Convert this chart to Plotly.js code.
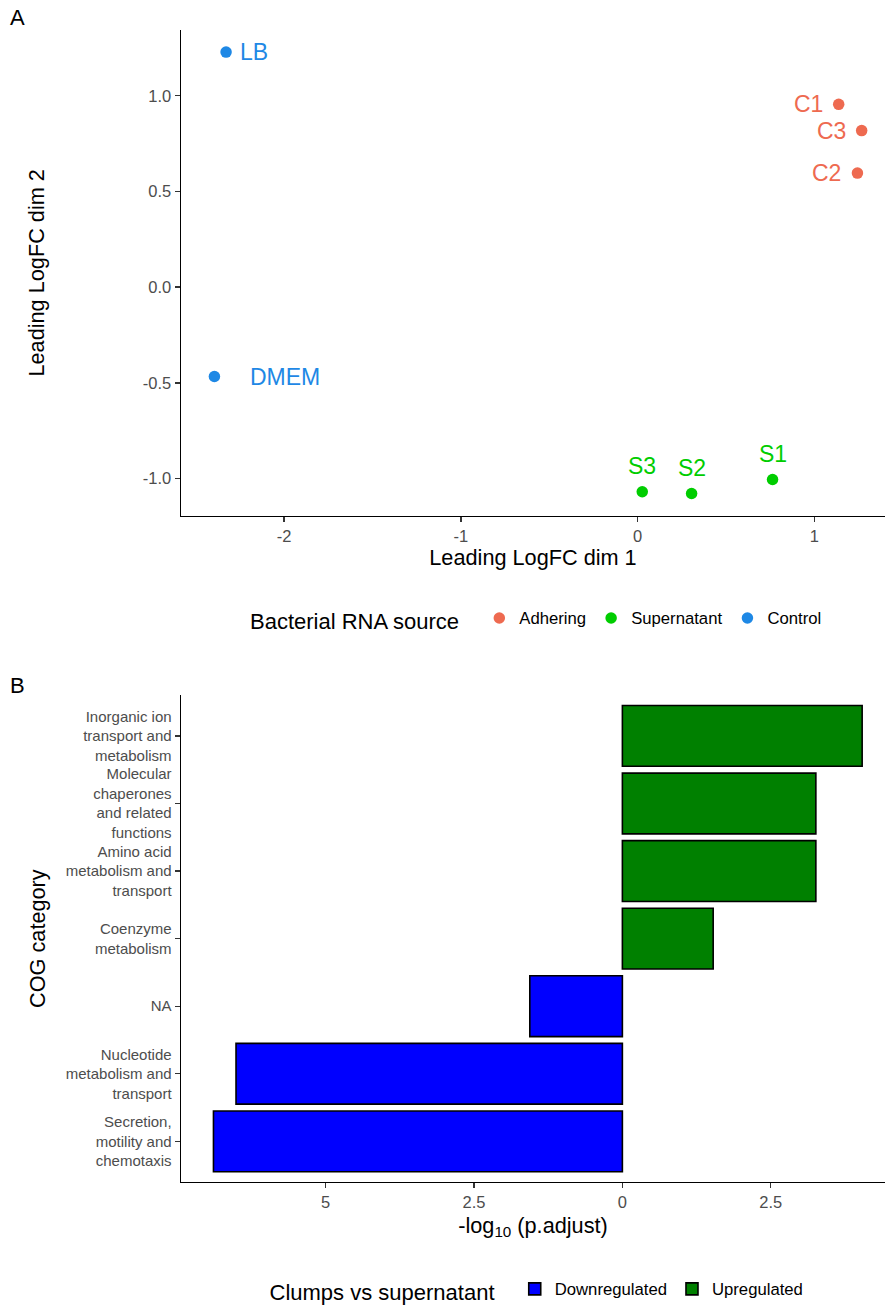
<!DOCTYPE html>
<html>
<head>
<meta charset="utf-8">
<script src="https://cdn.plot.ly/plotly-3.0.1.min.js"></script>
<style>
  html, body { margin: 0; padding: 0; background: #ffffff; overflow: hidden; }
  #chart { width: 885px; height: 1311px; }
</style>
</head>
<body>
<div id="chart"></div>
<script>
// ---------- Panel A data (MDS plot) ----------
const sampleNames  = ['C1', 'C2', 'C3', 'S1', 'S2', 'S3', 'LB', 'DMEM'];
const sampleGroups = ['Adhering', 'Adhering', 'Adhering', 'Supernatant', 'Supernatant', 'Supernatant', 'Control', 'Control'];
const dim1Values   = [1.137, 1.243, 1.267, 0.763, 0.305, 0.026, -2.328, -2.394];
const dim2Values   = [0.955, 0.596, 0.818, -1.005, -1.078, -1.069, 1.228, -0.467];
const groupOrder   = ['Adhering', 'Supernatant', 'Control'];
const xTickValsA   = [-2, -1, 0, 1];
const xTickTextA   = ['-2', '-1', '0', '1'];
const yTickValsA   = [-1, -0.5, 0, 0.5, 1];
const yTickTextA   = ['-1.0', '-0.5', '0.0', '0.5', '1.0'];

// ---------- Panel B data (COG enrichment) ----------
const cogCategories = [
  'Inorganic ion<br>transport and<br>metabolism',
  'Molecular<br>chaperones<br>and related<br>functions',
  'Amino acid<br>metabolism and<br>transport',
  'Coenzyme<br>metabolism',
  'NA',
  'Nucleotide<br>metabolism and<br>transport',
  'Secretion,<br>motility and<br>chemotaxis'
];
const cogScores     = [4.04, 3.26, 3.26, 1.53, -1.56, -6.51, -6.89];   // signed -log10(p.adjust)
const cogDirection  = ['Upregulated', 'Upregulated', 'Upregulated', 'Upregulated', 'Downregulated', 'Downregulated', 'Downregulated'];
const directionOrder = ['Downregulated', 'Upregulated'];
const xTickValsB    = [-5, -2.5, 0, 2.5];
const xTickTextB    = ['5', '2.5', '0', '2.5'];

// ---------- styles (kept separate from data) ----------
const groupColors = { 'Adhering': '#EE6A50', 'Supernatant': '#00CD00', 'Control': '#1E88E5' };
const dirColors   = { 'Downregulated': '#0000FF', 'Upregulated': '#008000' };
// label placement per sample: [xanchor, xshift, yshift]
const labelPlacement = {
  'C1': ['right', -14, 0], 'C2': ['right', -14, 0], 'C3': ['right', -14, 0],
  'S1': ['center', 0, 26], 'S2': ['center', 0, 26], 'S3': ['center', 0, 26],
  'LB': ['left', 12, 0], 'DMEM': ['left', 34, 0]
};

const FONT = 'Liberation Sans, Arial, Helvetica, sans-serif';
const W = 885, H = 1311;
const px = v => v / W;
const py = v => 1 - v / H;

const traces = [];
groupOrder.forEach(g => {
  const xs = [], ys = [], ts = [];
  sampleGroups.forEach((sg, i) => {
    if (sg === g) { xs.push(dim1Values[i]); ys.push(dim2Values[i]); ts.push(sampleNames[i]); }
  });
  traces.push({
    type: 'scatter', mode: 'markers', x: xs, y: ys, text: ts, name: g,
    xaxis: 'x', yaxis: 'y', legend: 'legend',
    marker: { color: groupColors[g], size: 11.5 },
    hoverinfo: 'text'
  });
});

directionOrder.forEach(d => {
  const xs = [], ys = [];
  cogDirection.forEach((cd, i) => {
    if (cd === d) { xs.push(cogScores[i]); ys.push(cogCategories[i]); }
  });
  traces.push({
    type: 'bar', orientation: 'h', x: xs, y: ys, name: d,
    xaxis: 'x2', yaxis: 'y2', legend: 'legend2',
    marker: { color: dirColors[d], line: { color: '#000000', width: 1.6 } }
  });
});

const annotations = [];
sampleNames.forEach((n, i) => {
  const p = labelPlacement[n];
  annotations.push({
    xref: 'x', yref: 'y', x: dim1Values[i], y: dim2Values[i], text: n,
    showarrow: false, xanchor: p[0], yanchor: 'middle', xshift: p[1], yshift: p[2],
    font: { family: FONT, size: 23, color: groupColors[sampleGroups[i]] }
  });
});
annotations.push({ xref: 'paper', yref: 'paper', x: px(8), y: py(18), text: 'A', showarrow: false,
  xanchor: 'left', yanchor: 'middle', font: { family: FONT, size: 22, color: '#000' } });
annotations.push({ xref: 'paper', yref: 'paper', x: px(8), y: py(688), text: 'B', showarrow: false,
  xanchor: 'left', yanchor: 'middle', font: { family: FONT, size: 22, color: '#000' } });

const tickFont  = { family: FONT, size: 16.5, color: '#4D4D4D' };
const catTickFont = { family: FONT, size: 15, color: '#4D4D4D' };
const titleFont = { family: FONT, size: 21.7, color: '#000000' };
const axisCommon = {
  showline: true, linecolor: '#000000', linewidth: 1.4, mirror: false,
  ticks: 'outside', ticklen: 5, tickwidth: 1.4, tickcolor: '#333333',
  showgrid: false, zeroline: false, tickfont: tickFont, automargin: false, fixedrange: true
};

const layout = {
  width: W, height: H,
  margin: { l: 0, r: 0, t: 0, b: 0, pad: 0 },
  paper_bgcolor: '#ffffff', plot_bgcolor: '#ffffff',
  font: { family: FONT, color: '#000' },
  barmode: 'overlay', bargap: 0.1,
  showlegend: true,
  xaxis: Object.assign({}, axisCommon, {
    domain: [px(181), 1], range: [-2.583, 1.399], anchor: 'y',
    tickmode: 'array', tickvals: xTickValsA, ticktext: xTickTextA,
    title: { text: 'Leading LogFC dim 1', font: titleFont, standoff: 5 }
  }),
  yaxis: Object.assign({}, axisCommon, {
    domain: [py(517.3), py(30)], range: [-1.194, 1.344], anchor: 'x',
    tickmode: 'array', tickvals: yTickValsA, ticktext: yTickTextA,
    title: { text: 'Leading LogFC dim 2', font: titleFont, standoff: 92 }
  }),
  xaxis2: Object.assign({}, axisCommon, {
    domain: [px(181), 1], range: [-7.437, 4.425], anchor: 'y2',
    tickmode: 'array', tickvals: xTickValsB, ticktext: xTickTextB,
    title: { text: '-log<sub>10</sub> (p.adjust)', font: titleFont, standoff: 7 }
  }),
  yaxis2: Object.assign({}, axisCommon, {
    domain: [py(1185.5), py(697.5)], range: [6.6, -0.6], anchor: 'x2',
    type: 'category', categoryorder: 'array', categoryarray: cogCategories,
    tickfont: catTickFont,
    title: { text: 'COG category', font: titleFont, standoff: 14 }
  }),
  legend: {
    orientation: 'h', x: px(537.5), xanchor: 'center', y: py(622), yanchor: 'middle',
    title: { text: 'Bacterial RNA source  ', font: { family: FONT, size: 22, color: '#000' }, side: 'left' },
    font: { family: FONT, size: 16.7, color: '#000' }, bgcolor: 'rgba(0,0,0,0)'
  },
  legend2: {
    orientation: 'h', x: px(538), xanchor: 'center', y: py(1295), yanchor: 'middle',
    title: { text: 'Clumps vs supernatant  ', font: { family: FONT, size: 22, color: '#000' }, side: 'left' },
    font: { family: FONT, size: 16.7, color: '#000' }, bgcolor: 'rgba(0,0,0,0)'
  },
  annotations: annotations
};

Plotly.newPlot('chart', traces, layout, { displayModeBar: false, staticPlot: true });
</script>
</body>
</html>
